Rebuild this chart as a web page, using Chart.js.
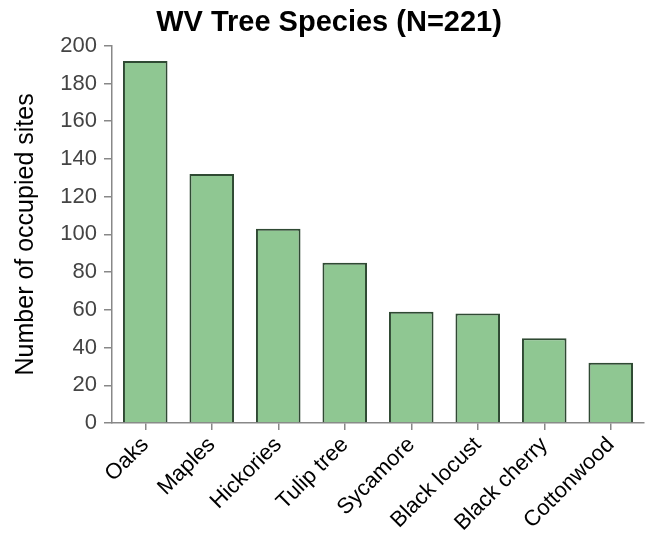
<!DOCTYPE html>
<html>
<head>
<meta charset="utf-8">
<script src="https://cdn.jsdelivr.net/npm/chart.js@4/dist/chart.umd.min.js"></script>
<style>
  html, body { margin: 0; padding: 0; background: #fff; }
  #wrap { width: 651px; height: 546px; }
</style>
</head>
<body>
<div id="wrap"><canvas id="c" width="651" height="546"></canvas></div>
<script>
const categories = ["Oaks", "Maples", "Hickories", "Tulip tree", "Sycamore", "Black locust", "Black cherry", "Cottonwood"];
const siteCounts = [192, 132, 103, 85, 59, 58, 45, 32];
const yTicks = [0, 20, 40, 60, 80, 100, 120, 140, 160, 180, 200];
const titleText = "WV Tree Species (N=221)";
const yTitleText = "Number of occupied sites";

new Chart(document.getElementById('c'), {
  type: 'bar',
  data: {
    labels: categories,
    datasets: [{
      data: siteCounts,
      backgroundColor: '#8fc792',
      borderColor: '#2f4a33',
      borderWidth: 2,
      barPercentage: 0.67,
      categoryPercentage: 1.0
    }]
  },
  options: {
    responsive: false,
    animation: false,
    layout: { padding: { left: 14, right: 7, top: 0, bottom: 0 } },
    plugins: {
      legend: { display: false },
      tooltip: { enabled: false },
      title: {
        display: true,
        text: titleText,
        color: '#000',
        font: { family: 'Liberation Sans, Arial, sans-serif', size: 29, weight: 'bold', lineHeight: 1.2 },
        padding: { top: 6, bottom: 5 }
      }
    },
    scales: {
      x: {
        grid: { display: true, drawOnChartArea: false, offset: false, color: '#888', tickLength: 7, lineWidth: 1.5 },
        border: { display: true, color: '#888', width: 1.5 },
        ticks: {
          color: '#000',
          font: { family: 'Liberation Sans, Arial, sans-serif', size: 22 },
          maxRotation: 45, minRotation: 45,
          padding: 2
        },
        afterFit: (s) => { s.height = 123; }
      },
      y: {
        min: 0, max: 200,
        afterBuildTicks: (s) => { s.ticks = yTicks.map(v => ({ value: v })); },
        grid: { display: true, drawOnChartArea: false, color: '#888', tickLength: 8, lineWidth: 1.5 },
        border: { display: true, color: '#888', width: 1.5 },
        ticks: {
          color: '#444',
          font: { family: 'Liberation Sans, Arial, sans-serif', size: 22 },
          padding: 7
        },
        title: {
          display: true,
          text: yTitleText,
          color: '#000',
          font: { family: 'Liberation Sans, Arial, sans-serif', size: 25, lineHeight: 1.0 },
          padding: { top: 0, bottom: 0 }
        },
        afterFit: (s) => { s.width = 98; }
      }
    }
  }
});
</script>
</body>
</html>
